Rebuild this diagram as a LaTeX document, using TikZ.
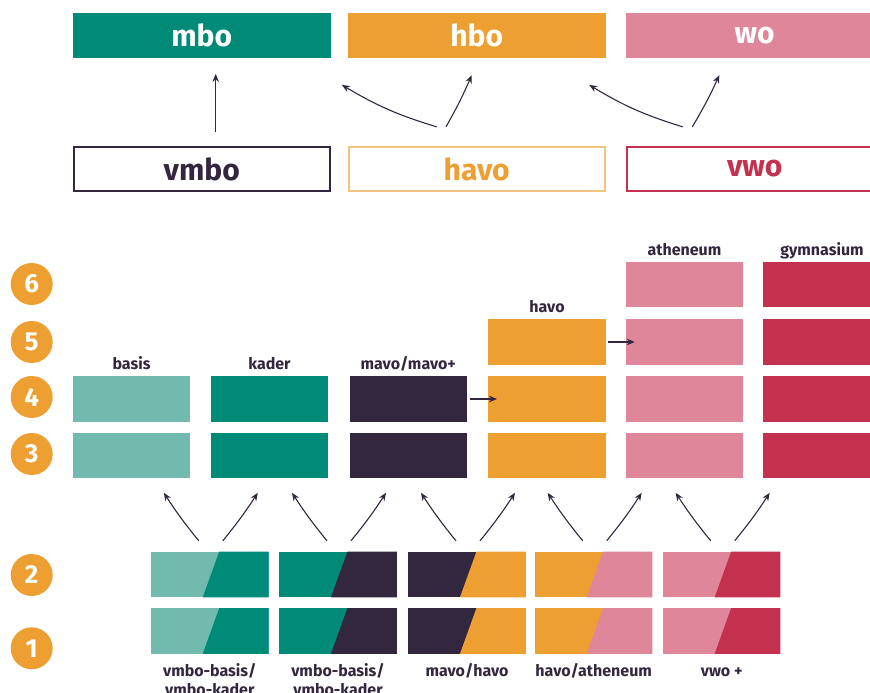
\documentclass[tikz,border=0pt]{standalone}
\usepackage{fontspec}
\setmainfont{Fira Sans}
\usetikzlibrary{arrows.meta,calc}

\definecolor{mboteal}{HTML}{008A78}
\definecolor{lightteal}{HTML}{72BAAE}
\definecolor{darkpurple}{HTML}{33263F}
\definecolor{havoorange}{HTML}{EE9F32}
\definecolor{paleorange}{HTML}{F0C37E}
\definecolor{athpink}{HTML}{DF869A}
\definecolor{gymred}{HTML}{C4314F}

\tikzset{
  topbox/.style={minimum width=258pt, minimum height=45pt, inner sep=0pt, fill=#1,
    text=white, font=\fontsize{30}{30}\selectfont\bfseries},
  outbox/.style={minimum width=256pt, minimum height=44.5pt, inner sep=0pt, draw=#1,
    line width=1.8pt, font=\fontsize{30}{30}\selectfont\bfseries},
  yearbox/.style={minimum width=117.6pt, minimum height=45.6pt, inner sep=0pt, fill=#1},
  halfbox/.style 2 args={minimum width=117.5pt, minimum height=45.6pt, inner sep=0pt, fill=#1,
    path picture={\fill[#2]
      ($(path picture bounding box.north west)!0.58!(path picture bounding box.north east)$)
      -- (path picture bounding box.north east) -- (path picture bounding box.south east)
      -- ($(path picture bounding box.south west)!0.44!(path picture bounding box.south east)$)
      -- cycle;}},
  yearcircle/.style={circle, fill=havoorange, minimum size=42pt, inner sep=0pt,
    text=white, font=\fontsize{26}{26}\selectfont\bfseries},
  lbl/.style={anchor=base, inner sep=0pt, text=darkpurple,
    font=\fontsize{16}{19}\selectfont\bfseries},
  arr/.style={-{Stealth[length=8pt,width=6.5pt]}, line width=1.1pt, draw=darkpurple}
}

\begin{document}
\begin{tikzpicture}[x=1pt,y=1pt]

  \clip (0,0) rectangle (870,693);

  % vervolgopleidingen
  \node[topbox=mboteal] (mbo) at (201.7,657.8) {mbo};
  \node[topbox=havoorange] (hbo) at (476.7,657.8) {hbo};
  \node[topbox=athpink] (wo) at (754.7,657.8) {wo};

  % schoolsoorten
  \node[outbox=darkpurple, text=darkpurple] (vmbo) at (201.7,524) {vmbo};
  \node[outbox=paleorange, text=havoorange] (havo) at (476.7,524) {havo};
  \node[outbox=gymred, text=gymred] (vwo) at (754.7,524) {vwo};

  % leerjaren
  \node[yearcircle] (c6) at (31.7,409) {6};
  \node[yearcircle] (c5) at (31.7,351) {5};
  \node[yearcircle] (c4) at (31.7,296) {4};
  \node[yearcircle] (c3) at (31.7,239) {3};
  \node[yearcircle] (c2) at (31.7,118) {2};
  \node[yearcircle] (c1) at (31.7,44.7) {1};

  % bovenbouw
  \node[yearbox=lightteal] (b3) at (131.5,237.5) {};
  \node[yearbox=lightteal] (b4) at (131.5,294) {};
  \node[yearbox=mboteal] (k3) at (269.5,237.5) {};
  \node[yearbox=mboteal] (k4) at (269.5,294) {};
  \node[yearbox=darkpurple] (m3) at (408.3,237.5) {};
  \node[yearbox=darkpurple] (m4) at (408.3,294) {};
  \node[yearbox=havoorange] (h3) at (547,237.5) {};
  \node[yearbox=havoorange] (h4) at (547,294) {};
  \node[yearbox=havoorange] (h5) at (547,351) {};
  \node[yearbox=athpink] (a3) at (684.5,237.5) {};
  \node[yearbox=athpink] (a4) at (684.5,294) {};
  \node[yearbox=athpink] (a5) at (684.5,351) {};
  \node[yearbox=athpink] (a6) at (684.5,408.5) {};
  \node[yearbox=gymred] (g3) at (822,237.5) {};
  \node[yearbox=gymred] (g4) at (822,294) {};
  \node[yearbox=gymred] (g5) at (822,351) {};
  \node[yearbox=gymred] (g6) at (822,408.5) {};

  \node[lbl] (lb) at (131.5,323) {basis};
  \node[lbl] (lk) at (269.5,323) {kader};
  \node[lbl] (lm) at (408.3,323) {mavo/mavo+};
  \node[lbl] (lh) at (547,380) {havo};
  \node[lbl] (la) at (684.5,437) {atheneum};
  \node[lbl] (lg) at (822,437) {gymnasium};

  % brugklassen
  \node[halfbox={lightteal}{mboteal}] (two1) at (209.8,118.5) {};
  \node[halfbox={mboteal}{darkpurple}] (two2) at (338,118.5) {};
  \node[halfbox={darkpurple}{havoorange}] (two3) at (467,118.5) {};
  \node[halfbox={havoorange}{athpink}] (two4) at (593.7,118.5) {};
  \node[halfbox={athpink}{gymred}] (two5) at (721.7,118.5) {};
  \node[halfbox={lightteal}{mboteal}] (one1) at (209.8,62) {};
  \node[halfbox={mboteal}{darkpurple}] (one2) at (338,62) {};
  \node[halfbox={darkpurple}{havoorange}] (one3) at (467,62) {};
  \node[halfbox={havoorange}{athpink}] (one4) at (593.7,62) {};
  \node[halfbox={athpink}{gymred}] (one5) at (721.7,62) {};

  \node[lbl, align=center] (l1) at (209.8,-3) {vmbo-basis/\\vmbo-kader};
  \node[lbl, align=center] (l2) at (338,-3) {vmbo-basis/\\vmbo-kader};
  \node[lbl] (l3) at (467,16) {mavo/havo};
  \node[lbl] (l4) at (593.7,16) {havo/atheneum};
  \node[lbl] (l5) at (721.7,16) {vwo +};

  % pijlen
  \draw[arr] ([xshift=14pt,yshift=14pt]vmbo.north) -- ([xshift=14pt,yshift=-16pt]mbo.south);
  \draw[arr] ([xshift=-40pt,yshift=19pt]havo.north) to[bend left=7] ([xshift=11pt,yshift=-27pt]mbo.south east);
  \draw[arr] ([xshift=-30.7pt,yshift=19pt]havo.north) to[bend right=3] ([xshift=-5pt,yshift=-17.3pt]hbo.south);
  \draw[arr] ([xshift=-72pt,yshift=19pt]vwo.north) to[bend left=7] ([xshift=-16.7pt,yshift=-27pt]hbo.south east);
  \draw[arr] ([xshift=-62.4pt,yshift=19pt]vwo.north) to[bend right=3] ([xshift=-35.4pt,yshift=-17.3pt]wo.south);

  \draw[arr] ([xshift=3pt]m4.east) -- ([xshift=9pt]h4.west);
  \draw[arr] ([xshift=2.3pt]h5.east) -- ([xshift=9.3pt]a5.west);

  \foreach \i in {1,...,5} {
    \draw[arr] ([xshift=-11pt,yshift=10.7pt]two\i.north) to[bend left=3] ++(-35,48);
    \draw[arr] ([xshift=13pt,yshift=10.7pt]two\i.north) to[bend right=3] ++(35,48);
  }

\end{tikzpicture}
\end{document}
